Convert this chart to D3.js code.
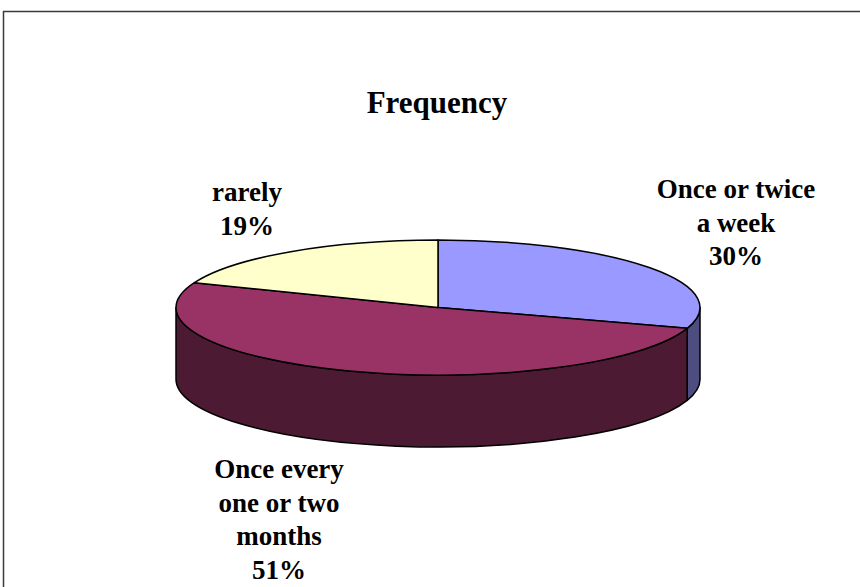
<!DOCTYPE html>
<html>
<head>
<meta charset="utf-8">
<script src="https://cdn.jsdelivr.net/npm/d3@7/dist/d3.min.js"></script>
<style>
  html, body { margin: 0; padding: 0; background: #fff; }
  svg { display: block; }
  text { font-family: "Liberation Serif", "Times New Roman", serif; font-weight: bold; fill: #000; }
</style>
</head>
<body>
<svg id="chart" width="860" height="587"></svg>
<script>
// Survey answers: how often
const categories = ["Once or twice a week", "Once every one or two months", "rarely"];
const values = [30, 51, 19];
const topColors = ["#9999FF", "#993366", "#FFFFCC"];
const sideColors = ["#4D4D80", "#4C1A33", "#80806A"];
// Data label lines for each slice (name split across lines, then percentage)
const labelLines = [
  ["Once or twice", "a week", "30%"],
  ["Once every", "one or two", "months", "51%"],
  ["rarely", "19%"]
];
const labelPos = [[736, 198], [279, 478], [247, 201]];
const title = "Frequency";

const svg = d3.select("#chart");
const W = 860, H = 587;

// chart frame
svg.append("rect")
  .attr("x", 3.5).attr("y", 11.5)
  .attr("width", W + 10).attr("height", H + 10)
  .attr("fill", "#fff").attr("stroke", "#3a3a3a").attr("stroke-width", 1.5);

svg.append("text")
  .attr("x", 437).attr("y", 113)
  .attr("text-anchor", "middle")
  .attr("font-size", 31)
  .text(title);

// 3D pie geometry
const cx = 438, cy = 307.5, rx = 262, ry = 67.5, depth = 72;
const pie = d3.pie().sort(null).value(d => d)
  .startAngle(0).endAngle(2 * Math.PI);
const arcs = pie(values);

// angle measured clockwise from 12 o'clock, projected onto the tilted ellipse
const pt = (a, dy = 0) => [cx + rx * Math.sin(a), cy - ry * Math.cos(a) + dy];

function topPath(a0, a1) {
  const p = d3.path();
  const s = pt(a0), e = pt(a1);
  const large = (a1 - a0) > Math.PI ? 1 : 0;
  p.moveTo(cx, cy);
  p.lineTo(s[0], s[1]);
  return p.toString() +
    `A${rx},${ry} 0 ${large} 1 ${e[0]},${e[1]}Z`;
}

function sidePath(a0, a1) {
  const s = pt(a0), e = pt(a1), sb = pt(a0, depth), eb = pt(a1, depth);
  const large = (a1 - a0) > Math.PI ? 1 : 0;
  return `M${s[0]},${s[1]}A${rx},${ry} 0 ${large} 1 ${e[0]},${e[1]}` +
    `L${eb[0]},${eb[1]}A${rx},${ry} 0 ${large} 0 ${sb[0]},${sb[1]}Z`;
}

const g = svg.append("g");

// visible front wall: angles between 90° and 270°
const frontLo = Math.PI / 2, frontHi = 3 * Math.PI / 2;
arcs.forEach((d, i) => {
  const a0 = Math.max(d.startAngle, frontLo);
  const a1 = Math.min(d.endAngle, frontHi);
  if (a1 > a0) {
    g.append("path")
      .attr("d", sidePath(a0, a1))
      .attr("fill", sideColors[i])
      .attr("stroke", "#000").attr("stroke-width", 1.5)
      .attr("stroke-linejoin", "round");
  }
});

arcs.forEach((d, i) => {
  g.append("path")
    .attr("d", topPath(d.startAngle, d.endAngle))
    .attr("fill", topColors[i])
    .attr("stroke", "#000").attr("stroke-width", 1.5)
    .attr("stroke-linejoin", "round");
});

// data labels
labelLines.forEach((lines, i) => {
  const t = svg.append("text")
    .attr("text-anchor", "middle")
    .attr("font-size", 27);
  lines.forEach((ln, j) => {
    t.append("tspan")
      .attr("x", labelPos[i][0])
      .attr("y", labelPos[i][1] + j * 33.5)
      .text(ln);
  });
});
</script>
</body>
</html>
